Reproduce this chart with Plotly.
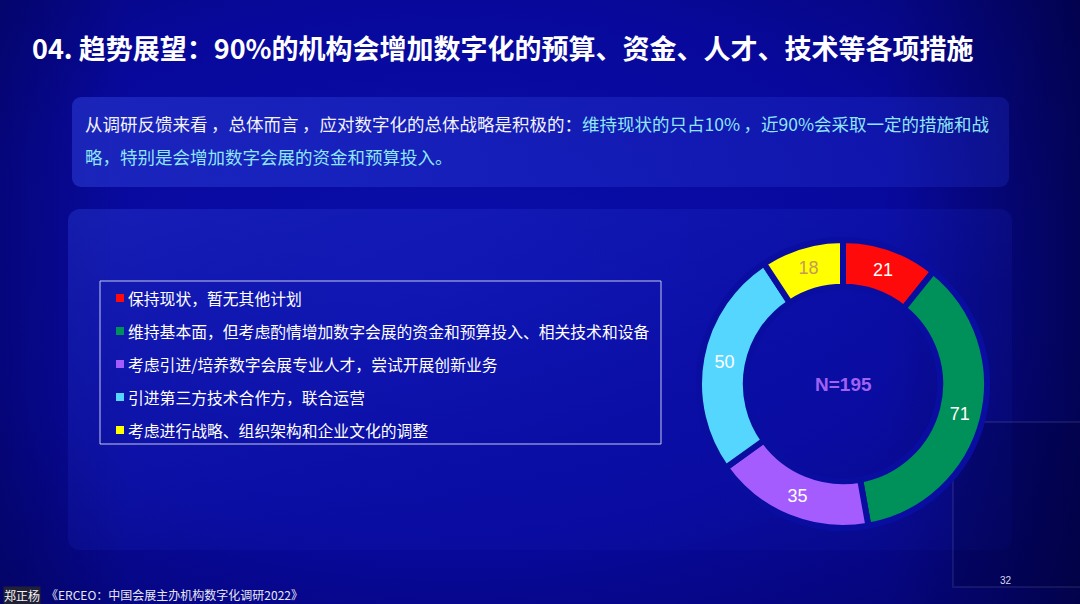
import base64
import plotly.graph_objects as go

# ---------------- data ----------------
categories = [
    "保持现状，暂无其他计划",
    "维持基本面，但考虑酌情增加数字会展的资金和预算投入、相关技术和设备",
    "考虑引进/培养数字会展专业人才，尝试开展创新业务",
    "引进第三方技术合作方，联合运营",
    "考虑进行战略、组织架构和企业文化的调整",
]
counts = [21, 71, 35, 50, 18]
slice_colors = ["#ff0a0a", "#00905a", "#a55cff", "#55d6ff", "#ffff00"]
label_colors = ["#ffffff", "#ffffff", "#ffffff", "#ffffff", "#c49a5a"]
total_label = "N=195"

title_text = "04. 趋势展望：90%的机构会增加数字化的预算、资金、人才、技术等各项措施"
summary_line1_white = "从调研反馈来看\u2009，总体而言\u2009，应对数字化的总体战略是积极的："
summary_line1_cyan = "维持现状的只占10%\u2009，近90%会采取一定的措施和战"
summary_line2_cyan = "略，特别是会增加数字会展的资金和预算投入。"
source_text = "《ERCEO：中国会展主办机构数字化调研2022》"
watermark_text = "郑正杨"
page_number = "32"

W, H = 1080, 604
CJK = "Noto Sans CJK SC"
LAT = "Liberation Sans, Arial"


def px(x):
    return x / W


def py(y):
    return 1 - y / H


# ---------------- background (gradient as svg) ----------------
svg = f"""<svg xmlns="http://www.w3.org/2000/svg" width="{W}" height="{H}" viewBox="0 0 {W} {H}" preserveAspectRatio="none">
<defs>
<radialGradient id="bg" cx="0.42" cy="0.45" r="0.8">
<stop offset="0" stop-color="#0a0eaa"/>
<stop offset="0.55" stop-color="#08099c"/>
<stop offset="1" stop-color="#04046c"/>
</radialGradient>
<linearGradient id="side" x1="0" y1="0" x2="1" y2="0">
<stop offset="0" stop-color="#000040" stop-opacity="0.35"/>
<stop offset="0.12" stop-color="#000040" stop-opacity="0"/>
<stop offset="0.82" stop-color="#000040" stop-opacity="0"/>
<stop offset="1" stop-color="#000030" stop-opacity="0.55"/>
</linearGradient>
<linearGradient id="p1" x1="0" y1="0" x2="1" y2="0">
<stop offset="0" stop-color="#2a3cd8" stop-opacity="0.55"/>
<stop offset="1" stop-color="#2030d0" stop-opacity="0.28"/>
</linearGradient>
<linearGradient id="p2" x1="0" y1="0" x2="1" y2="1">
<stop offset="0" stop-color="#2a3cd8" stop-opacity="0.40"/>
<stop offset="0.6" stop-color="#1a28c8" stop-opacity="0.12"/>
<stop offset="1" stop-color="#1a28c8" stop-opacity="0.08"/>
</linearGradient>
</defs>
<rect x="0" y="0" width="{W}" height="{H}" fill="url(#bg)"/>
<rect x="0" y="0" width="{W}" height="{H}" fill="url(#side)"/>
<rect x="72" y="97" width="937" height="90" rx="9" fill="url(#p1)"/>
<rect x="68" y="209" width="944" height="341" rx="12" fill="url(#p2)"/>
<rect x="953" y="422" width="140" height="165" fill="#000030" fill-opacity="0.22" stroke="#ffffff" stroke-opacity="0.08" stroke-width="2"/>
</svg>"""
svg_uri = "data:image/svg+xml;base64," + base64.b64encode(svg.encode("utf-8")).decode("ascii")

# ---------------- donut ----------------
cx, cy, r_outer = 843, 384, 144
fig = go.Figure()
fig.add_trace(
    go.Pie(
        labels=categories,
        values=counts,
        sort=False,
        direction="clockwise",
        rotation=0,
        hole=0.675,
        marker=dict(colors=slice_colors, line=dict(color="#0a0ea0", width=6)),
        textinfo="value",
        textposition="inside",
        insidetextorientation="horizontal",
        textfont=dict(family=LAT, size=18, color=label_colors),
        showlegend=False,
        hoverinfo="label+value",
        domain=dict(
            x=[px(cx - r_outer), px(cx + r_outer)],
            y=[py(cy + r_outer), py(cy - r_outer)],
        ),
    )
)

shapes = []
annotations = []

# title
annotations.append(dict(
    text=f"<b>{title_text}</b>", x=px(30), y=py(48), xref="paper", yref="paper",
    xanchor="left", yanchor="middle", showarrow=False,
    font=dict(family=CJK, size=27, color="#ffffff"),
))

# summary text
annotations.append(dict(
    text=f'{summary_line1_white}<span style="color:#8fe6f8">{summary_line1_cyan}</span>',
    x=px(83), y=py(124), xref="paper", yref="paper",
    xanchor="left", yanchor="middle", showarrow=False,
    font=dict(family=CJK, size=17.5, color="#f2f2fa"),
))
annotations.append(dict(
    text=summary_line2_cyan,
    x=px(83), y=py(156), xref="paper", yref="paper",
    xanchor="left", yanchor="middle", showarrow=False,
    font=dict(family=CJK, size=17.5, color="#8fe6f8"),
))

# legend box
shapes.append(dict(
    type="rect", xref="paper", yref="paper",
    x0=px(100), x1=px(661), y0=py(444), y1=py(281),
    line=dict(color="#c4c8ec", width=1), fillcolor="rgba(0,0,0,0)",
))
for i, (cat, col) in enumerate(zip(categories, slice_colors)):
    yc = 298 + 33 * i
    shapes.append(dict(
        type="rect", xref="paper", yref="paper",
        x0=px(116), x1=px(124), y0=py(yc + 4), y1=py(yc - 4),
        line=dict(width=0), fillcolor=col,
    ))
    annotations.append(dict(
        text=cat, x=px(126), y=py(yc), xref="paper", yref="paper",
        xanchor="left", yanchor="middle", showarrow=False,
        font=dict(family=CJK, size=15.8, color="#ffffff"),
    ))

# center label
annotations.append(dict(
    text=f"<b>{total_label}</b>", x=px(cx), y=py(cy), xref="paper", yref="paper",
    xanchor="center", yanchor="middle", showarrow=False,
    font=dict(family=LAT, size=19, color="#a062f2"),
))

# source + watermark + page number
annotations.append(dict(
    text=source_text, x=px(44), y=py(594), xref="paper", yref="paper",
    xanchor="left", yanchor="middle", showarrow=False,
    font=dict(family=CJK, size=12, color="#e6e6f4"),
))
annotations.append(dict(
    text=watermark_text, x=px(3), y=py(595), xref="paper", yref="paper",
    xanchor="left", yanchor="middle", showarrow=False,
    bgcolor="#202036", borderpad=0,
    font=dict(family=CJK, size=12, color="#f4f4f4"),
))
annotations.append(dict(
    text=page_number, x=px(1006), y=py(580), xref="paper", yref="paper",
    xanchor="center", yanchor="middle", showarrow=False,
    font=dict(family=LAT, size=10, color="#d8d8ec"),
))

fig.update_layout(
    width=W, height=H,
    margin=dict(l=0, r=0, t=0, b=0),
    paper_bgcolor="#0809a0",
    plot_bgcolor="rgba(0,0,0,0)",
    images=[dict(
        source=svg_uri, xref="paper", yref="paper", x=0, y=1,
        sizex=1, sizey=1, sizing="stretch", layer="below",
        xanchor="left", yanchor="top",
    )],
    shapes=shapes,
    annotations=annotations,
    showlegend=False,
)

fig.write_html(
    "out.html",
    config=dict(displayModeBar=False),
    post_script="document.body.style.margin='0';document.body.style.overflow='hidden';",
)
